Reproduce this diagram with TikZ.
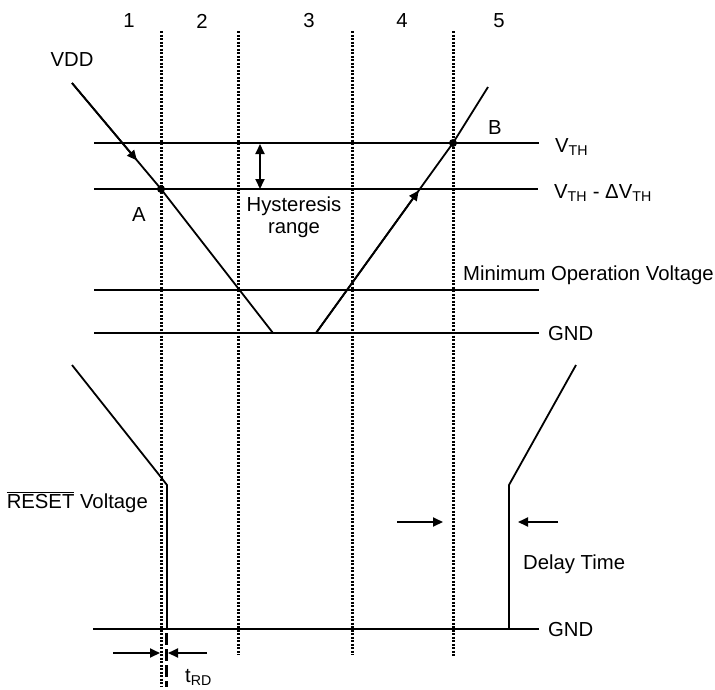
\documentclass[tikz,border=0pt]{standalone}
\usepackage{fontspec}
\setmainfont{Liberation Sans}
\usetikzlibrary{arrows.meta,calc}
\begin{document}
\begin{tikzpicture}[x=1pt,y=-1pt,
  wire/.style={line width=1.8pt, line join=miter},
  region/.style={line width=3pt, dash pattern=on 2.4pt off 1.1pt},
  marker/.style={line width=3pt, dash pattern=on 12pt off 4pt},
  tip/.style={-{Triangle[length=10pt,width=9pt]}},
  lbl/.style={inner sep=0pt, font=\fontsize{20.3}{23}\selectfont},
  dotpt/.style={circle, fill, inner sep=0pt, minimum size=8pt}]
\useasboundingbox (0,0) rectangle (715,689);

% region dividers
\coordinate (d1t) at (161,31); \coordinate (d1b) at (161,687);
\coordinate (d2t) at (238,31); \coordinate (d2b) at (238,655);
\coordinate (d3t) at (352,31); \coordinate (d3b) at (352,655);
\coordinate (d4t) at (453,31); \coordinate (d4b) at (453,657);
\draw[region] (d1t) -- (d1b);
\draw[region] (d2t) -- (d2b);
\draw[region] (d3t) -- (d3b);
\draw[region] (d4t) -- (d4b);

% region numbers
\node[lbl] (n1) at (129,21) {1};
\node[lbl] (n2) at (202,21) {2};
\node[lbl] (n3) at (309,21) {3};
\node[lbl] (n4) at (402,21) {4};
\node[lbl] (n5) at (499,21) {5};

% horizontal levels
\coordinate (vthL) at (94,143); \coordinate (vthR) at (539,143);
\coordinate (vtlL) at (94,189); \coordinate (vtlR) at (538,189);
\coordinate (mopL) at (94,290); \coordinate (mopR) at (539,290);
\coordinate (gndL) at (94,333); \coordinate (gndR) at (539,333);
\draw[wire] (vthL) -- (vthR);
\draw[wire] (vtlL) -- (vtlR);
\draw[wire] (mopL) -- (mopR);
\draw[wire] (gndL) -- (gndR);

\node[lbl, anchor=base west] (lvth) at (555,152) {V\textsubscript{TH}};
\node[lbl, anchor=base west] (lvtl) at (554,198) {V\textsubscript{TH} - ΔV\textsubscript{TH}};
\node[lbl, anchor=base west] (lmop) at (463,280.5) {Minimum Operation Voltage};
\node[lbl, anchor=base west] (lgnd) at (548,340) {GND};

% VDD curve
\coordinate (vs) at (72,83);
\coordinate (A) at (161,189);
\coordinate (vb) at (273,333);
\coordinate (vc) at (316,333);
\coordinate (B) at (453,143);
\coordinate (ve) at (488,87);
\draw[wire] (vs) -- (A) -- (vb) -- (vc) -- (B) -- (ve);
\draw[wire, tip] (vs) -- ($(vs)!0.73!(A)$);
\draw[wire, tip] (vc) -- ($(vc)!0.75!(B)$);
\node[dotpt] (dA) at (A) {};
\node[dotpt] (dB) at (B) {};
\node[lbl] (lvdd) at (72,60) {VDD};
\node[lbl] (lA) at (139,215) {A};
\node[lbl] (lB) at (495,128) {B};

% hysteresis
\coordinate (h1) at (260,144);
\coordinate (h2) at (260,189);
\draw[wire, {Triangle[length=10pt,width=9pt]}-{Triangle[length=10pt,width=9pt]}] (h1) -- (h2);
\node[lbl, anchor=base] (lhy1) at (294,211) {Hysteresis};
\node[lbl, anchor=base] (lhy2) at (294,233) {range};

% RESET waveform
\coordinate (r1) at (72,365);
\coordinate (r2) at (160,476);
\coordinate (r3) at (167,485);
\coordinate (r4) at (167,629);
\coordinate (r5) at (509,629);
\coordinate (r6) at (509,485);
\coordinate (r7) at (576,365);
\draw[wire] (r1) -- (r2) -- (r3) -- (r4);
\draw[wire] (r5) -- (r6) -- (r7);
\coordinate (g2L) at (93,629); \coordinate (g2R) at (539,629);
\draw[wire] (g2L) -- (g2R);
\node[lbl, anchor=base west] (lgnd2) at (548,636) {GND};
\node[lbl, anchor=base east] (lrst) at (148,508) {$\overline{\mbox{RESET}}$ Voltage};

% tRD
\coordinate (m1) at (166,633); \coordinate (m2) at (166,687);
\draw[marker] (m1) -- (m2);
\coordinate (ta1) at (113,653); \coordinate (ta2) at (160,653);
\coordinate (tb1) at (207,653); \coordinate (tb2) at (168,653);
\draw[wire, tip] (ta1) -- (ta2);
\draw[wire, tip] (tb1) -- (tb2);
\node[lbl, anchor=base west] (ltrd) at (185,682) {t\textsubscript{RD}};

% delay time
\coordinate (da1) at (397,522); \coordinate (da2) at (443,522);
\coordinate (db1) at (558,522); \coordinate (db2) at (518,522);
\draw[wire, tip] (da1) -- (da2);
\draw[wire, tip] (db1) -- (db2);
\node[lbl, anchor=base west] (ldly) at (523,569) {Delay Time};
\end{tikzpicture}
\end{document}
